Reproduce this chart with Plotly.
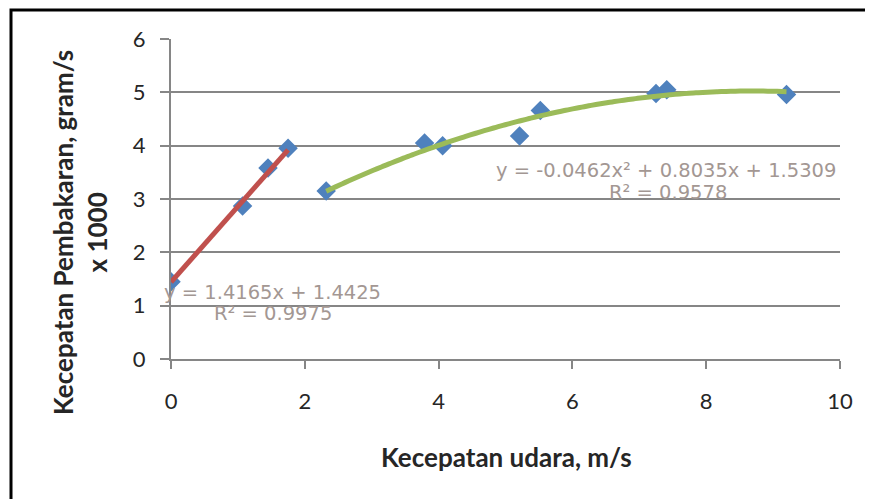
import plotly.graph_objects as go
import numpy as np

# data
x_red = [0.0, 1.07, 1.45, 1.75]
y_red = [1.45, 2.87, 3.58, 3.95]
x_green = [2.32, 3.79, 4.06, 5.21, 5.52, 7.25, 7.41, 9.20]
y_green = [3.15, 4.05, 4.00, 4.18, 4.66, 4.98, 5.05, 4.96]

lin_coef = [1.4165, 1.4425]             # slope, intercept
poly_coef = [-0.0462, 0.8035, 1.5309]   # a, b, c
eq_lin = ["y = 1.4165x + 1.4425", "R² = 0.9975"]
eq_poly = ["y = -0.0462x² + 0.8035x + 1.5309", "R² = 0.9578"]

x_ticks = [0, 2, 4, 6, 8, 10]
y_ticks = [0, 1, 2, 3, 4, 5, 6]

# page body has an 8px margin; work in screenshot pixels and offset
OFF = 8
W, H = 873 - OFF, 499 - OFF
L, T = 171 - OFF, 39 - OFF
pw, ph = 669, 320
R, B = W - L - pw, H - T - ph

def px(xs):   # screenshot x pixel -> paper
    return (xs - OFF - L) / pw

def py(ys):   # screenshot y pixel -> paper
    return (T + ph - (ys - OFF)) / ph

fig = go.Figure()

xs = np.concatenate([x_red, x_green])
ys = np.concatenate([y_red, y_green])
fig.add_trace(go.Scatter(x=xs, y=ys, mode="markers",
                         marker=dict(symbol="diamond", size=15, color="#4F81BD",
                                     line=dict(width=0)),
                         showlegend=False, hoverinfo="x+y"))

xl = np.linspace(min(x_red), max(x_red), 2)
fig.add_trace(go.Scatter(x=xl, y=np.polyval(lin_coef, xl), mode="lines",
                         line=dict(color="#C0504D", width=5), showlegend=False))
xp = np.linspace(min(x_green), max(x_green), 100)
fig.add_trace(go.Scatter(x=xp, y=np.polyval(poly_coef, xp), mode="lines",
                         line=dict(color="#9BBB59", width=5, shape="spline"),
                         showlegend=False))

eq_font = dict(family="DejaVu Sans", size=19.5, color="#A39793")
ann = [
    dict(x=px(272), y=py(292), text=eq_lin[0]),
    dict(x=px(273), y=py(313), text=eq_lin[1]),
    dict(x=px(666), y=py(170), text=eq_poly[0]),
    dict(x=px(668), y=py(192), text=eq_poly[1]),
]
for a in ann:
    fig.add_annotation(xref="paper", yref="paper", showarrow=False,
                       xanchor="center", yanchor="middle", font=eq_font, **a)

title_font = dict(family="Lato, Noto Sans", size=26, color="#262626")
fig.add_annotation(xref="paper", yref="paper", x=px(506), y=py(457),
                   text="<b>Kecepatan udara, m/s</b>", showarrow=False,
                   font=title_font, xanchor="center", yanchor="middle")
fig.add_annotation(xref="paper", yref="paper", x=px(80), y=py(233),
                   text="<b>Kecepatan Pembakaran, gram/s<br>x 1000</b>", showarrow=False,
                   font=title_font, textangle=-90, xanchor="center", yanchor="middle")

# outer frame
fig.add_shape(type="rect", xref="paper", yref="paper",
              x0=px(11), x1=px(900), y0=py(530), y1=py(10),
              line=dict(color="black", width=3), layer="above")

tick_font = dict(family="Lato, Noto Sans", size=22, color="#262626")
fig.update_xaxes(range=[0, 10], tickvals=x_ticks, showgrid=False,
                 showline=True, linecolor="#868686", linewidth=2,
                 ticks="outside", ticklen=8, tickcolor="#868686", tickwidth=2,
                 tickfont=tick_font, ticklabelstandoff=14, zeroline=False)
fig.update_yaxes(range=[0, 6], tickvals=y_ticks, showgrid=True,
                 gridcolor="#868686", gridwidth=2,
                 showline=True, linecolor="#868686", linewidth=2,
                 ticks="outside", ticklen=9, tickcolor="#868686", tickwidth=2,
                 tickfont=tick_font, ticklabelstandoff=10, zeroline=False)

fig.update_layout(width=W, height=H, margin=dict(l=L, r=R, t=T, b=B),
                  plot_bgcolor="white", paper_bgcolor="white")

fig.write_html("out.html")
